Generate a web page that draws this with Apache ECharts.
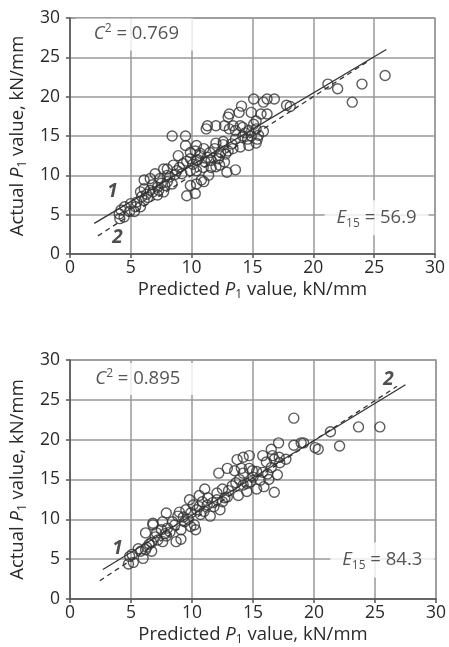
<!DOCTYPE html>
<html>
<head>
<meta charset="utf-8">
<title>Actual vs predicted P1</title>
<script src="https://cdn.jsdelivr.net/npm/echarts@6/dist/echarts.min.js"></script>
<style>
  html, body { margin: 0; padding: 0; background: #fff; }
  #chart { width: 449px; height: 647px; }
</style>
</head>
<body>
<div id="chart"></div>
<script>
// axis ticks (both axes, both panels)
const ticks = [0, 5, 10, 15, 20, 25, 30]

// top panel: predicted vs actual P1 (kN/mm)
const topPoints = [
  [21.2, 21.6], [22.0, 21.0], [24.0, 21.6], [23.2, 19.3], [25.9, 22.7],
  [17.8, 18.9], [18.1, 18.75], [15.1, 19.7], [15.9, 19.3], [16.2, 19.7],
  [16.8, 19.7], [14.1, 18.8], [13.9, 18.0], [14.9, 18.0], [15.7, 17.8],
  [16.2, 17.8], [13.1, 17.8], [13.0, 17.4], [15.3, 16.9], [11.3, 16.3],
  [12.0, 16.3], [11.2, 15.9], [12.7, 16.3], [13.4, 16.3], [14.0, 16.3],
  [14.2, 16.1], [13.1, 15.9], [13.6, 15.7], [14.7, 15.7], [15.3, 15.9],
  [15.9, 15.6], [14.9, 15.0], [14.2, 15.0], [15.4, 14.6], [14.6, 14.6],
  [13.6, 14.6], [8.4, 15.0], [9.5, 15.0], [9.5, 13.8], [10.4, 13.8],
  [12.0, 14.1], [12.6, 13.9], [14.7, 13.8], [15.3, 14.1], [14.0, 13.6],
  [13.4, 13.4], [11.0, 13.4], [11.5, 12.9], [10.3, 13.1], [9.9, 12.9],
  [10.7, 12.5], [8.9, 12.5], [12.3, 12.5], [12.8, 12.7], [9.9, 12.1],
  [10.4, 11.9], [11.1, 11.7], [11.6, 11.9], [12.2, 12.1], [12.7, 11.7],
  [9.3, 11.5], [8.5, 11.3], [8.0, 10.8], [7.7, 10.8], [10.95, 11.0],
  [11.6, 11.0], [12.3, 11.3], [12.9, 10.4], [13.6, 10.7], [9.9, 10.6],
  [10.4, 10.6], [9.2, 10.2], [8.65, 10.1], [8.0, 10.0], [7.0, 10.2],
  [7.4, 9.6], [6.6, 9.6], [6.1, 9.4], [10.8, 9.4], [11.4, 10.0],
  [10.4, 8.9], [9.9, 8.7], [8.4, 8.9], [7.8, 8.7], [7.2, 8.5],
  [6.6, 8.1], [6.1, 8.3], [5.8, 7.9], [7.7, 7.9], [7.2, 7.5],
  [6.4, 7.2], [10.3, 7.7], [9.6, 7.4], [6.1, 6.8], [5.5, 6.6],
  [5.0, 6.4], [5.4, 6.0], [5.8, 6.0], [4.5, 6.0], [4.2, 5.6],
  [5.3, 5.4], [4.05, 5.1], [4.1, 4.5], [4.45, 4.7], [4.9, 5.4],
  [6.3, 7.6], [6.8, 8.8], [7.5, 9.0], [8.2, 9.8], [8.8, 10.6],
  [9.6, 11.8], [10.1, 11.4], [10.7, 12.8], [11.3, 12.3], [11.9, 13.4],
  [12.4, 12.9], [13.0, 13.1], [13.3, 14.0], [12.0, 11.1], [11.0, 9.2],
  [8.0, 9.2], [7.3, 8.1], [5.9, 7.3], [6.8, 7.9], [9.0, 11.0],
  [10.5, 12.0], [12.6, 14.3], [14.4, 15.4], [15.5, 15.1], [15.1, 16.5]
]
const topFit = [[2.0, 3.9], [26.0, 26.0]]      // line 1, solid
const topEqual = [[2.3, 2.3], [24.6, 24.6]]    // line 2, dashed
const topC2 = '0.769'
const topE15 = '56.9'

// bottom panel
const bottomPoints = [
  [18.35, 22.7], [23.65, 21.6], [25.4, 21.6], [21.35, 21.0], [22.1, 19.2],
  [20.1, 19.0], [20.35, 18.8], [18.35, 19.3], [18.95, 19.6], [19.15, 19.6],
  [17.1, 19.6], [16.5, 18.8], [15.8, 18.0], [14.7, 18.0], [14.2, 17.8],
  [13.7, 17.5], [16.6, 18.0], [17.15, 17.8], [17.7, 17.55], [16.75, 17.55],
  [16.1, 17.2], [12.9, 16.4], [13.5, 16.1], [14.05, 16.4], [14.7, 16.4],
  [14.95, 16.1], [12.2, 15.8], [14.2, 15.8], [15.3, 16.0], [15.8, 15.9],
  [16.2, 15.7], [17.0, 15.6], [16.3, 15.0], [15.9, 14.1], [15.3, 13.8],
  [16.75, 13.4], [13.9, 15.0], [14.5, 14.5], [13.3, 14.2], [13.8, 13.0],
  [14.5, 13.5], [12.5, 13.8], [12.05, 13.3], [11.05, 13.8], [10.6, 13.0],
  [11.3, 12.7], [9.8, 12.45], [10.85, 12.2], [12.05, 12.45], [12.7, 12.7],
  [10.1, 11.8], [10.6, 11.6], [11.25, 11.8], [11.8, 11.6], [9.5, 11.2],
  [8.97, 10.9], [9.9, 10.8], [10.7, 10.6], [11.5, 10.4], [12.3, 11.2],
  [7.9, 10.8], [8.85, 10.4], [8.4, 9.7], [7.6, 9.7], [6.8, 9.5],
  [6.8, 9.3], [9.4, 9.7], [10.2, 9.3], [9.9, 9.1], [10.3, 8.7],
  [9.1, 8.7], [8.0, 8.9], [7.5, 8.7], [7.1, 8.3], [6.2, 8.3],
  [7.9, 7.9], [7.2, 7.4], [7.6, 7.2], [8.7, 7.2], [9.1, 7.5],
  [6.7, 7.1], [6.7, 6.0], [6.2, 6.2], [5.8, 6.0], [6.3, 6.5],
  [6.0, 5.1], [5.1, 5.6], [4.9, 5.35], [4.8, 4.4], [5.2, 4.6],
  [7.0, 7.8], [8.2, 8.4], [8.6, 9.3], [9.3, 10.3], [9.7, 10.0],
  [10.4, 11.2], [11.0, 11.0], [11.7, 12.1], [12.5, 12.2], [13.0, 13.6],
  [13.6, 14.6], [14.2, 14.3], [15.0, 15.3], [15.6, 14.9], [16.5, 16.5],
  [17.2, 17.1], [5.6, 6.3], [6.5, 6.9], [7.8, 8.2], [12.9, 12.8], [14.8, 14.7]
]
const bottomFit = [[2.7, 3.7], [27.5, 26.9]]
const bottomEqual = [[2.45, 2.3], [26.8, 26.7]]
const bottomC2 = '0.895'
const bottomE15 = '84.3'

const FONT = '"Open Sans", "Noto Sans", sans-serif'
const TEXT = '#2a2a2a'
const AXIS = '#555'
const GRIDC = '#999'

const rich = {
  n: { fontSize: 18.5, fontFamily: FONT, color: TEXT, lineHeight: 23 },
  i: { fontSize: 18.5, fontFamily: FONT, color: TEXT, fontStyle: 'italic', lineHeight: 23 },
  sub: { fontSize: 12, fontFamily: FONT, color: TEXT, lineHeight: 12, verticalAlign: 'bottom' },
  sup: { fontSize: 12, fontFamily: FONT, color: TEXT, lineHeight: 12, verticalAlign: 'top' },
  num: { fontSize: 19, fontFamily: FONT, color: '#222', fontStyle: 'italic', fontWeight: 'bold', lineHeight: 22 },
}

const makeX = (gridIndex, gap) => ({
  type: 'value', gridIndex, min: 0, max: 30, interval: 5,
  name: '{n|Predicted }{i|P}{sub|1}{n| value, kN/mm}',
  nameLocation: 'middle', nameGap: gap,
  nameTextStyle: { rich },
  axisLine: { show: true, onZero: false, lineStyle: { color: AXIS, width: 1.5 } },
  axisTick: { show: true, length: 4, lineStyle: { color: AXIS, width: 1.5 } },
  axisLabel: { fontSize: 17.5, fontFamily: FONT, color: TEXT, margin: 5 },
  splitLine: { show: true, lineStyle: { color: GRIDC, width: 1.5 } },
})

const makeY = (gridIndex, gap) => ({
  type: 'value', gridIndex, min: 0, max: 30, interval: 5,
  name: '{n|Actual }{i|P}{sub|1}{n| value, kN/mm}',
  nameLocation: 'middle', nameGap: gap,
  nameTextStyle: { rich },
  axisLine: { show: true, onZero: false, lineStyle: { color: AXIS, width: 1.5 } },
  axisTick: { show: true, length: 4, lineStyle: { color: AXIS, width: 1.5 } },
  axisLabel: { fontSize: 17.5, fontFamily: FONT, color: TEXT, margin: 10 },
  splitLine: { show: true, lineStyle: { color: GRIDC, width: 1.5 } },
})

const scatter = (idx, data) => ({
  type: 'scatter', xAxisIndex: idx, yAxisIndex: idx, data,
  symbol: 'circle', symbolSize: 10, z: 3,
  itemStyle: { color: 'rgba(255,255,255,0)', borderColor: '#333', borderWidth: 1.4 },
})

const line = (idx, data, dashed) => ({
  type: 'line', xAxisIndex: idx, yAxisIndex: idx, data,
  showSymbol: false, symbol: 'none', z: 4, silent: true,
  lineStyle: { color: '#333', width: 1.3, type: dashed ? [5, 4] : 'solid' },
})

// text boxes placed in data units
const note = (idx, pos, text, pad) => ({
  type: 'scatter', xAxisIndex: idx, yAxisIndex: idx, data: [pos],
  symbolSize: 1, z: 1, silent: true,
  itemStyle: { color: 'rgba(0,0,0,0)' },
  label: {
    show: true, position: 'inside', formatter: text, rich,
    backgroundColor: pad ? '#fff' : 'transparent', padding: pad || 0,
  },
})

const option = {
  animation: false,
  backgroundColor: '#fff',
  grid: [
    { left: 66, top: 18, width: 369, height: 236, show: true, borderColor: GRIDC, borderWidth: 1.5 },
    { left: 63, top: 360, width: 374, height: 240, show: true, borderColor: GRIDC, borderWidth: 1.5 },
  ],
  xAxis: [makeX(0, 24), makeX(1, 24)],
  yAxis: [makeY(0, 35), makeY(1, 32)],
  series: [
    scatter(0, topPoints),
    line(0, topFit, false),
    line(0, topEqual, true),
    note(0, [5.3, 27.9], '{i|C}{sup|2}{n| = ' + topC2 + '}', [4, 14, 5, 18]),
    note(0, [25.2, 4.6], '{i|E}{sub|15}{n| = ' + topE15 + '}', [6, 12, 6, 12]),
    note(0, [3.5, 7.9], '{num|1}'),
    note(0, [3.9, 2.1], '{num|2}'),

    scatter(1, bottomPoints),
    line(1, bottomFit, false),
    line(1, bottomEqual, true),
    note(1, [5.4, 27.6], '{i|C}{sup|2}{n| = ' + bottomC2 + '}', [4, 14, 5, 18]),
    note(1, [25.6, 4.9], '{i|E}{sub|15}{n| = ' + bottomE15 + '}', [6, 12, 6, 12]),
    note(1, [3.9, 6.3], '{num|1}'),
    note(1, [26.1, 27.6], '{num|2}'),
  ],
}

const chart = echarts.init(document.getElementById('chart'))
chart.setOption(option)
window.addEventListener('resize', () => chart.resize())
</script>
</body>
</html>
